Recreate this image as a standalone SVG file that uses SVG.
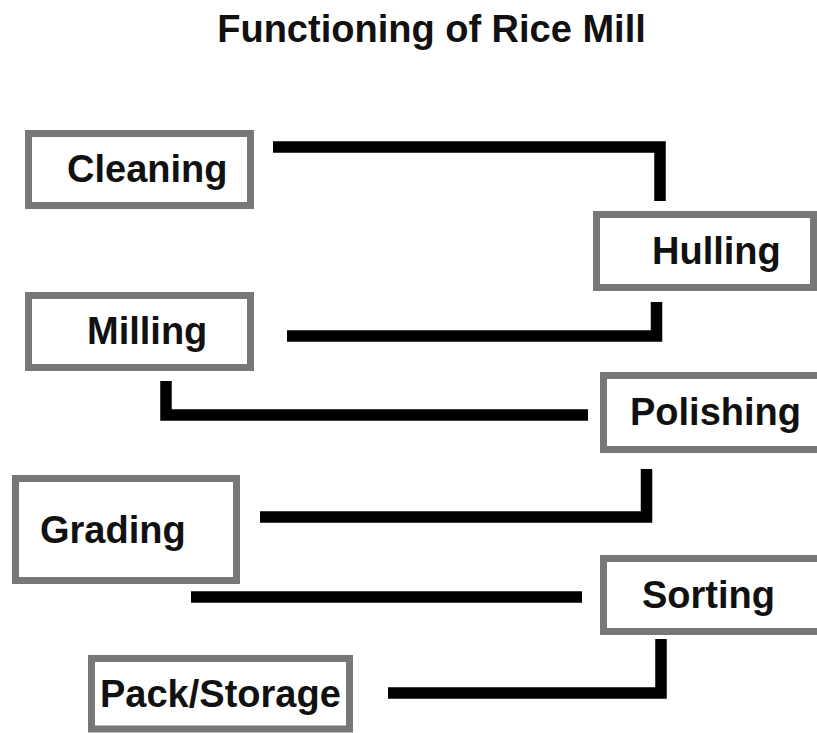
<svg xmlns="http://www.w3.org/2000/svg" width="817" height="733" viewBox="0 0 817 733">
<style>
.box{fill:#fff;stroke:#777;stroke-width:7}
.lbl{font-family:"Liberation Sans",Arial,sans-serif;font-weight:bold;font-size:38px;fill:#111}
.con{fill:none;stroke:#000;stroke-width:11.5;stroke-linecap:butt;stroke-linejoin:miter}
</style>
<rect width="817" height="733" fill="#fff"/>
<text id="title" class="lbl" x="431.5" y="42" text-anchor="middle">Functioning of Rice Mill</text>
<g id="connectors">
<path class="con" d="M273 147 H660 V201"/>
<path class="con" d="M656.5 302 V336 H287"/>
<path class="con" d="M166 381 V415 H588"/>
<path class="con" d="M646.5 469 V517 H260"/>
<path class="con" d="M191 597 H582"/>
<path class="con" d="M661 639 V693 H388"/>
</g>
<g id="cleaning"><rect class="box" x="28.5" y="133.5" width="222" height="72"/><text class="lbl" x="67" y="182">Cleaning</text></g>
<g id="hulling"><rect class="box" x="596.5" y="214.5" width="217" height="73"/><text class="lbl" x="652" y="264">Hulling</text></g>
<g id="milling"><rect class="box" x="28.5" y="295.5" width="222" height="72"/><text class="lbl" x="87" y="344">Milling</text></g>
<g id="polishing"><rect class="box" x="603.5" y="375.5" width="230" height="74"/><text class="lbl" x="630" y="425">Polishing</text></g>
<g id="grading"><rect class="box" x="15.5" y="478.5" width="221" height="102"/><text class="lbl" x="40" y="543">Grading</text></g>
<g id="sorting"><rect class="box" x="603.5" y="558.5" width="230" height="73"/><text class="lbl" x="642" y="608">Sorting</text></g>
<g id="pack-storage"><rect class="box" x="91.5" y="658.5" width="258" height="70.5"/><text class="lbl" x="100" y="707">Pack/Storage</text></g>
</svg>
